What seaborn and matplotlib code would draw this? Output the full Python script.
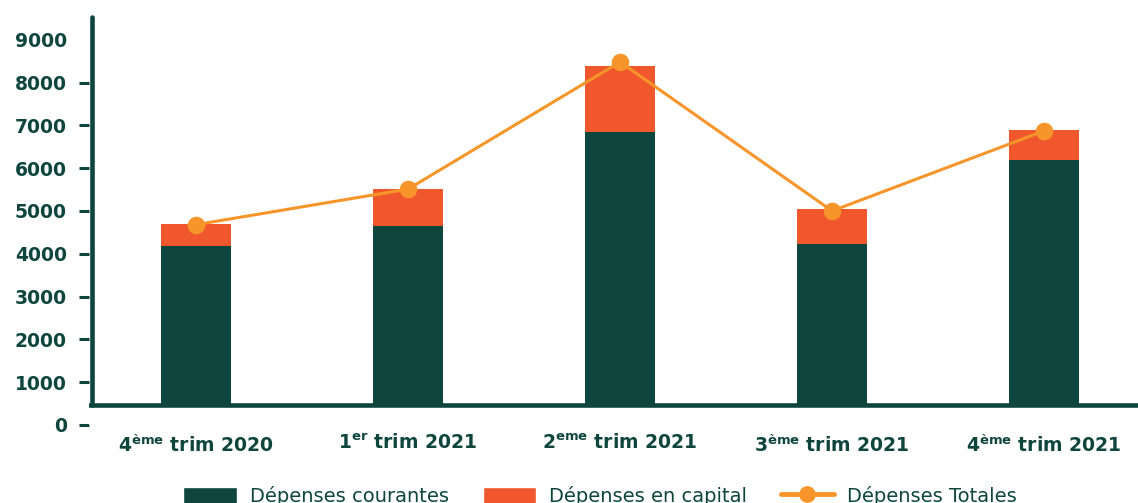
import matplotlib
matplotlib.use("Agg")
import matplotlib.pyplot as plt
from matplotlib.patches import Patch
from matplotlib.lines import Line2D
import seaborn as sns
import pandas as pd

# Quarterly spending (values in the chart's units)
trimestres = [
    "4$^{\\mathbf{ème}}$ trim 2020",
    "1$^{\\mathbf{er}}$ trim 2021",
    "2$^{\\mathbf{eme}}$ trim 2021",
    "3$^{\\mathbf{ème}}$ trim 2021",
    "4$^{\\mathbf{ème}}$ trim 2021",
]
depenses_courantes = [4180, 4650, 6850, 4230, 6190]
depenses_capital = [520, 860, 1540, 820, 700]
depenses_totales = [4680, 5510, 8480, 5000, 6870]
yticks = [0, 1000, 2000, 3000, 4000, 5000, 6000, 7000, 8000, 9000]

DARK = "#0e453d"
RED = "#f0572d"
ORANGE = "#f7952b"

sns.set_theme(style="white")
plt.rcParams["font.family"] = ["DejaVu Sans"]
plt.rcParams["mathtext.fontset"] = "custom"
plt.rcParams["mathtext.rm"] = "DejaVu Sans:bold"
plt.rcParams["mathtext.bf"] = "DejaVu Sans:bold"

df = pd.DataFrame({
    "trim": trimestres,
    "courantes": depenses_courantes,
    "capital": depenses_capital,
    "totales": depenses_totales,
})
df["empile"] = df["courantes"] + df["capital"]

W, H = 1138, 503
fig = plt.figure(figsize=(W / 100, H / 100), dpi=100)
ax = fig.add_axes([89 / W, (H - 425) / H, (W - 89) / W, (425 - 17) / H])

# stacked bars: full stack in red, current spending drawn over it
sns.barplot(data=df, x="trim", y="empile", color=RED, width=0.33,
            saturation=1, linewidth=0, ax=ax, zorder=1)
sns.barplot(data=df, x="trim", y="courantes", color=DARK, width=0.33,
            saturation=1, linewidth=0, ax=ax, zorder=1.1)
sns.pointplot(data=df, x="trim", y="totales", color=ORANGE, markers="o",
              markersize=11, linewidth=2.2, ax=ax, zorder=4)

ax.set_xlim(-0.505, 4.443)
ax.set_ylim(0, 9530)
base = 470

# baseline band and custom axis lines
ax.axhspan(0, base, color="white", lw=0, zorder=2)
ax.axhline(base, color=DARK, lw=3.3, zorder=3)
ax.plot([0.0033, 0.0033], [base, 9530], transform=ax.get_yaxis_transform(),
        color=DARK, lw=3.3, solid_capstyle="round", clip_on=False, zorder=3)

for s in ax.spines.values():
    s.set_visible(False)

ax.set_yticks(yticks)
ax.set_yticklabels([str(v) for v in yticks])
ax.tick_params(axis="y", left=True, length=7, width=2.2, color=DARK, pad=9,
               labelsize=13.5, labelcolor=DARK)
ax.yaxis.get_major_ticks()[-1].tick1line.set_visible(False)
for lab in ax.get_yticklabels():
    lab.set_fontweight("bold")

ax.tick_params(axis="x", bottom=False, length=0, pad=6, labelsize=13.5,
               labelcolor=DARK)
for lab in ax.get_xticklabels():
    lab.set_fontweight("bold")

ax.set_xlabel("")
ax.set_ylabel("")
ax.grid(False)

handles = [
    Patch(facecolor=DARK, label="Dépenses courantes"),
    Patch(facecolor=RED, label="Dépenses en capital"),
    Line2D([], [], color=ORANGE, lw=3.5, marker="o", markersize=11,
           label="Dépenses Totales"),
]
leg = fig.legend(handles=handles, loc="center", bbox_to_anchor=(600 / W, 1 - 496 / H),
                 ncol=3, frameon=False, fontsize=14, handlelength=2.75,
                 handleheight=1.0, handletextpad=0.65, columnspacing=1.75)
for t in leg.get_texts():
    t.set_color(DARK)

fig.savefig("out.png", dpi=100)
